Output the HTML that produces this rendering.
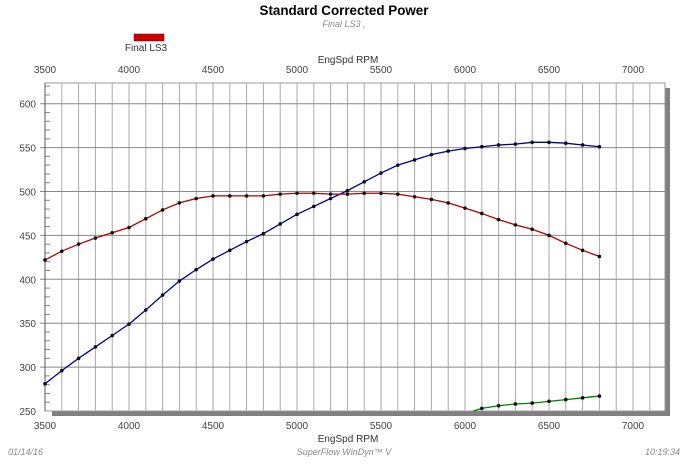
<!DOCTYPE html>
<html><head><meta charset="utf-8"><style>
body{margin:0;background:#fff;width:688px;height:459px;overflow:hidden;font-family:"Liberation Sans",sans-serif}
</style></head><body>
<svg id="s" width="688" height="459" xmlns="http://www.w3.org/2000/svg" font-family="Liberation Sans, sans-serif">
<text x="344" y="15" font-size="13.4" font-weight="bold" text-anchor="middle" fill="#000">Standard Corrected Power</text>
<text x="344" y="27" font-size="9" font-style="italic" text-anchor="middle" fill="#888">Final LS3 ,</text>
<rect x="134" y="34" width="30" height="7" fill="#cc0000" stroke="#600" stroke-width="0.5"/>
<text x="146" y="51" font-size="10" text-anchor="middle" fill="#333">Final LS3</text>
<text x="348" y="63" font-size="10" text-anchor="middle" fill="#333">EngSpd RPM</text>
<text x="348" y="442" font-size="10" text-anchor="middle" fill="#333">EngSpd RPM</text>
<text x="8" y="455" font-size="9" font-style="italic" fill="#888">01/14/16</text>
<text x="344" y="455" font-size="9" font-style="italic" text-anchor="middle" fill="#888">SuperFlow WinDyn™ V</text>
<text x="680" y="455" font-size="9" font-style="italic" text-anchor="end" fill="#888">10:19:34</text>
<rect x="52" y="411" width="618" height="5" fill="#808080"/>
<rect x="665" y="88" width="5" height="328" fill="#808080"/>
<rect x="45" y="83" width="620" height="328" fill="#fff" stroke="#999" stroke-width="1"/>
<g id="g"></g>
</svg>
<script>
var g=document.getElementById('g'),h='';
function X(r){return 45+(r-3500)*0.168}
function Y(v){return 411-(v-250)*0.878}
for(var r=3600;r<=7100;r+=100){h+='<line x1="'+X(r)+'" y1="83" x2="'+X(r)+'" y2="411" stroke="#aaa" stroke-width="1"/>';}
for(var v=300;v<=600;v+=50){h+='<line x1="40" y1="'+Y(v)+'" x2="665" y2="'+Y(v)+'" stroke="#888" stroke-width="1"/>';
h+='<text x="36" y="'+(Y(v)+4)+'" font-size="10" text-anchor="end" fill="#444">'+v+'</text>';}
h+='<text x="36" y="'+(Y(250)+4)+'" font-size="10" text-anchor="end" fill="#444">250</text>';
for(var v=260;v<=620;v+=10){if(v%50)h+='<line x1="45" y1="'+Y(v)+'" x2="50" y2="'+Y(v)+'" stroke="#888"/>';}
for(var r=3500;r<=7000;r+=500){h+='<text x="'+X(r)+'" y="73" font-size="10" text-anchor="middle" fill="#444">'+r+'</text>';
h+='<text x="'+X(r)+'" y="429" font-size="10" text-anchor="middle" fill="#444">'+r+'</text>';}
h+='<line x1="45" y1="83" x2="45" y2="411" stroke="#555"/>';
var blue=[281,296,310,323,336,349,365,382,398,411,423,433,443,452,463,474,483,492,501,511,521,530,536,542,546,549,551,553,554,556,556,555,553,551];
var red=[422,432,440,447,453,459,469,479,487,492,495,495,495,495,497,498,498,497,497,498,498,497,494,491,487,481,475,468,462,457,450,441,433,426];
function series(d,start,col,first){var p=[];for(var i=0;i<d.length;i++){p.push(X(start+i*100)+','+Y(d[i]));}
if(first)p.unshift(first);
h+='<polyline points="'+p.join(' ')+'" fill="none" stroke="'+col+'" stroke-width="1.3"/>';
for(var i=0;i<d.length;i++)h+='<circle cx="'+X(start+i*100)+'" cy="'+Y(d[i])+'" r="1.8" fill="#111"/>';}
series(blue,3500,'#000090');
series(red,3500,'#b00000');
series([253,256,258,259,261,263,265,267],6100,'#008000',X(6050)+','+Y(250));
g.innerHTML=h;
</script>
</body></html>
